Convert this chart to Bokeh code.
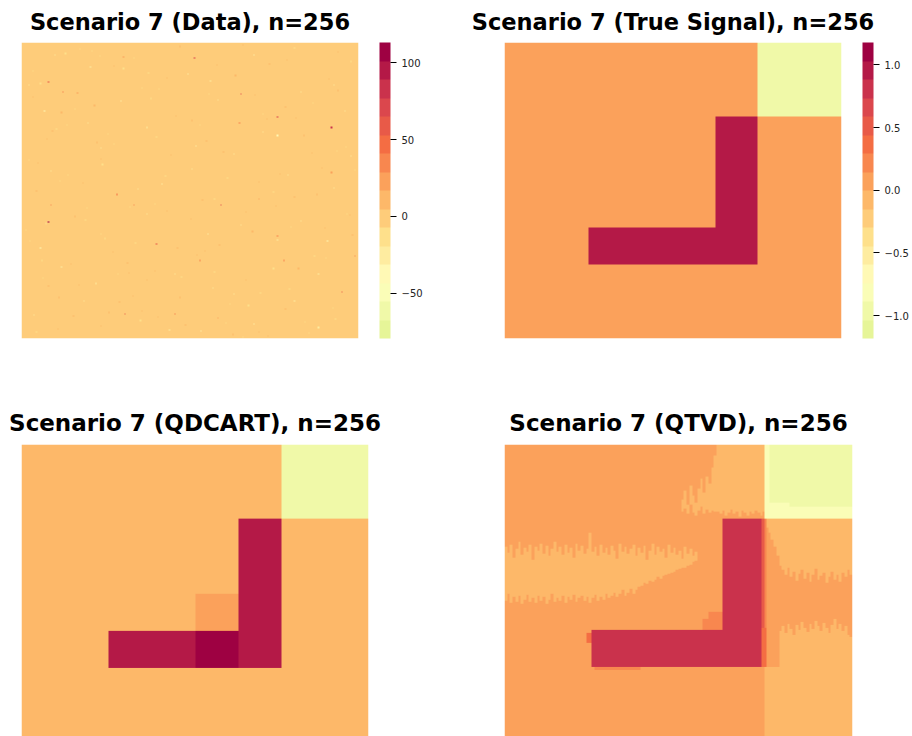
import numpy as np
from bokeh.plotting import figure
from bokeh.models import (LinearColorMapper, ColorBar, FixedTicker,
                          CustomJSTickFormatter, Range1d)
from bokeh.layouts import column, row
from bokeh.embed import file_html
from bokeh.resources import INLINE

N = 256

# 16-step palette (light yellow-green -> dark red)
PALETTE = ["#E6F598", "#F0F9A8", "#FAFDB7", "#FFF9B5", "#FEECA0", "#FEE08B",
           "#FECC7A", "#FDB869", "#FBA15B", "#F8874F", "#F46D43", "#E85A48",
           "#DB474D", "#CA324C", "#B41947", "#9E0142"]

# ---------------- Data panel ----------------
DATA_RANGE = (-79.4, 113.2)
DATA_TICKS = [-50, 0, 50, 100]
DATA_BASE = 0.0
# visible outliers: row (from top), column, value
SPIKE_ROW = [13, 155, 42, 44, 64, 73, 131, 140, 140, 174, 188, 188, 215, 234, 234, 184, 167, 140, 34, 69, 238, 112, 135, 43,
             36, 59, 69, 79, 73, 89, 109, 81, 49, 80, 42, 16, 36, 96, 50, 114, 91, 111, 122, 135, 157, 154, 171, 195,
             223, 246, 249, 240, 223, 194, 177, 165, 200, 217, 243, 148, 125, 114, 27, 13, 21, 10, 10, 4, 59, 148,
             165, 200, 200, 235,
             20, 30, 55, 60, 85, 95, 100, 120, 145, 150, 160, 175, 190, 205, 210, 220, 230, 245, 250, 8,
             5, 18, 26, 33, 47, 52, 63, 71, 77, 86, 93, 104, 117, 126, 133, 143, 152, 162, 170, 181,
             186, 197, 203, 212, 219, 227, 236, 241, 248, 252, 12, 40, 66, 98, 128, 159, 183, 208, 232, 254,
             3, 9, 15, 22, 28, 35, 41, 48, 54, 61, 67, 74, 80, 87, 94, 101, 108, 115, 121, 129,
             136, 142, 149, 156, 163, 169, 177, 184, 191, 198, 205, 213, 220, 226, 233, 239, 244, 250, 253, 7,
             11, 19, 24, 31, 39, 45, 57, 65, 71, 83, 90, 97, 105, 113, 119, 131, 139, 146, 153, 166,
             173, 180, 188, 195, 202, 209, 216, 224, 229, 237, 242, 247, 251, 2, 44, 76, 110, 141, 171, 199]
SPIKE_COL = [131, 20, 31, 166, 194, 235, 72, 151, 85, 102, 135, 199, 243, 78, 116, 253, 194, 22, 20, 165, 149, 235, 180, 42,
             5, 17, 50, 65, 95, 132, 129, 102, 149, 194, 212, 250, 237, 161, 75, 35, 60, 22, 106, 146, 166, 212, 232, 191,
             207, 225, 136, 90, 47, 30, 14, 60, 116, 161, 176, 247, 237, 202, 126, 85, 52, 25, 176, 207, 245, 95,
             141, 73, 225, 9,
             70, 110, 200, 30, 140, 220, 60, 180, 110, 40, 230, 150, 80, 170, 20, 120, 200, 60, 180, 240,
             44, 188, 96, 143, 8, 221, 117, 34, 183, 57, 239, 12, 156, 88, 207, 49, 128, 3, 194, 69,
             231, 101, 16, 145, 84, 172, 39, 215, 112, 160, 77, 104, 186, 250, 11, 204, 133, 56, 91, 168,
             120, 33, 201, 77, 162, 14, 240, 98, 55, 183, 129, 26, 214, 70, 153, 5, 228, 109, 46, 191,
             137, 82, 249, 18, 175, 63, 118, 222, 37, 146, 95, 203, 28, 158, 66, 238, 124, 11, 187, 53,
             59, 148, 8, 233, 91, 177, 40, 208, 135, 19, 246, 113, 61, 196, 29, 224, 101, 170, 48, 251,
             86, 139, 15, 210, 121, 43, 181, 74, 236, 103, 155, 27, 218, 168, 142, 23, 253, 193, 6, 81]
SPIKE_VAL = [70, 105, 45, 75, 75, 80, 50, 75, 30, 60, 35, 35, 55, 55, 45, 30, 40, 30, 60, 40, 25, 25, 25, 20,
             -25, -40, -25, -15, -25, -40, -25, -15, -25, -40, -25, -15, -25, -25, -40, -15, -25, -25, -40, -15, -25, -25, -40, -15,
             -25, -25, -40, -15, -25, -25, -40, -15, -25, -25, -40, -15, -25, -25, -40, -15, -25, -25, -40, -15, -25, -25,
             -40, -15, -25, -25,
             10, 10, 12, 10, 10, 12, 10, 10, 12, 10, 10, 12, 10, 10, 12, 10, 10, 12, 10, 10,
             -12, 8, -12, -20, 8, -12, 10, -12, -20, 8, -12, 8, -12, -20, 8, -12, 10, -12, -20, 8,
             -12, 8, -12, -20, 8, -12, 10, -12, -20, 8, 20, -12, 8, -20, 15, -12, 8, -20, 10, -12,
             8, -12, 8, -12, 8, -12, 8, -12, 8, -12, 8, -12, 8, -12, 8, -12, 8, -12, 8, -12,
             8, -12, 8, -12, 8, -12, 8, -12, 8, -12, 8, -12, 8, -12, 8, -12, 8, -12, 8, -12,
             -12, 8, -12, 8, -12, 8, -12, 8, -12, 8, -12, 8, -12, 8, -12, 8, -12, 8, -12, 8,
             -12, 8, -12, 8, -12, 8, -12, 8, -12, 8, -12, 8, -12, 8, -12, 8, -12, 8, -12, 8]

# ---------------- Signal colour scale ----------------
SIGNAL_RANGE = (-1.183, 1.178)
SIGNAL_TICKS = [-1.0, -0.5, 0.0, 0.5, 1.0]

# blocks: (row0, row1, col0, col1, value), rows counted from the top, ends exclusive
TRUE_BASE = 0.0
TRUE_BLOCKS = [(0, 64, 192, 256, -1.0), (64, 192, 160, 192, 1.0), (160, 192, 64, 160, 1.0)]

QDCART_BASE = -0.07
QDCART_BLOCKS = [(0, 64, 192, 256, -1.0), (64, 192, 160, 192, 1.0), (160, 192, 64, 128, 1.0),
                 (160, 192, 128, 160, 1.1), (128, 160, 128, 160, 0.07)]

QTVD_BASE = 0.07
QTVD_LIGHT = -0.07
# light band on the left: top / bottom row per 2-column strip, from column 0
QTVD_LEFT_TOP = [88, 93, 86, 97, 90, 84, 95, 89, 92, 86, 99, 88, 91, 85, 94, 87, 96, 90, 84, 92, 88, 95, 86, 93,
                 89, 97, 85, 91, 87, 94, 90, 76, 92, 88, 96, 86, 93, 89, 95, 87, 91, 98, 85, 92, 88, 94, 90, 86,
                 96, 89, 93, 87, 99, 91, 85, 95, 88, 92, 90, 97, 86, 93, 89, 95, 91, 98, 88, 94, 90, 96, 92, 100]
QTVD_LEFT_BOT = [134, 128, 136, 131, 135, 130, 137, 133, 129, 135, 132, 136, 130, 134, 131, 137, 133, 128, 135, 132, 134, 130, 136, 131,
                 133, 129, 135, 132, 130, 134, 131, 136, 132, 129, 134, 131, 133, 128, 132, 130, 127, 131, 128, 125, 130, 127, 124, 128,
                 125, 122, 121, 119, 120, 117, 118, 116, 114, 115, 113, 112, 111, 110, 109, 108, 107, 106, 106, 104, 103, 101, 100, 98]
# light strip above the L: start / end row per 2-column strip, from column 130
QTVD_STRIP_START = [48, 40, 52, 36, 44, 50, 38, 30, 42, 28, 34, 20, 10,
                    0, 0, 0, 0, 0, 0, 0, 0, 0, 0, 0, 0, 0, 0, 0, 0, 0, 0]
QTVD_STRIP_END = [58, 55, 60, 52, 59, 61, 57, 54, 60, 56, 59, 57, 58,
                  58, 60, 57, 61, 59, 56, 60, 58, 62, 57, 59, 61, 58, 60, 57, 59, 61, 58]
# right-hand side: per 2-column strip from column 192
QTVD_RIGHT_UP_END = [72, 76, 82, 88, 96, 104, 108, 112, 106, 114, 109, 117, 111, 108, 115, 110,
                     118, 112, 107, 116, 113, 110, 119, 114, 109, 116, 112, 118, 110, 114, 108, 112]
QTVD_RIGHT_LOW_START = [191, 191, 191, 191, 191, 160, 156, 162, 154, 158, 163, 155, 159, 152, 157, 161,
                        154, 158, 151, 156, 160, 153, 157, 162, 155, 150, 158, 154, 160, 156, 163, 165]
QTVD_BLOCKS = [(191, 256, 191, 192, -0.07),
               (0, 64, 191, 256, -0.96), (0, 54, 191, 195, -0.81), (54, 64, 191, 256, -0.81),
               (50, 54, 191, 210, -0.81),
               (64, 191, 160, 189, 0.81), (159, 191, 64, 189, 0.81),
               (64, 157, 189, 191, 0.52), (64, 157, 191, 193, 0.22), (157, 191, 189, 193, 0.37),
               (162, 170, 60, 64, 0.37), (144, 159, 150, 160, 0.22), (150, 159, 146, 150, 0.22),
               (191, 193, 66, 100, 0.22)]

TITLES = ["Scenario 7 (Data), n=256", "Scenario 7 (True Signal), n=256",
          "Scenario 7 (QDCART), n=256", "Scenario 7 (QTVD), n=256"]

STEP = 2


def blocks_grid(base, blocks):
    g = np.full((N, N), base, dtype=float)
    for r0, r1, c0, c1, v in blocks:
        g[r0:r1, c0:c1] = v
    return g


def data_grid():
    g = np.full((N, N), DATA_BASE, dtype=float)
    for r, c, v in zip(SPIKE_ROW, SPIKE_COL, SPIKE_VAL):
        g[r, c] = v
    return g


def qtvd_grid():
    g = np.full((N, N), QTVD_BASE, dtype=float)
    for i, (t, b) in enumerate(zip(QTVD_LEFT_TOP, QTVD_LEFT_BOT)):
        g[t:b, i * STEP:(i + 1) * STEP] = QTVD_LIGHT
    for i, (s, e) in enumerate(zip(QTVD_STRIP_START, QTVD_STRIP_END)):
        c0 = 130 + i * STEP
        g[s:e, c0:c0 + STEP] = QTVD_LIGHT
    for i, (e, s) in enumerate(zip(QTVD_RIGHT_UP_END, QTVD_RIGHT_LOW_START)):
        c0 = 192 + i * STEP
        g[64:e, c0:c0 + STEP] = QTVD_LIGHT
        g[s:N, c0:c0 + STEP] = QTVD_LIGHT
    for r0, r1, c0, c1, v in QTVD_BLOCKS:
        g[r0:r1, c0:c1] = v
    return g


def make_fig(title, frame_w, frame_h, left, right, top, bottom, y0, fsize, standoff, valign):
    p = figure(frame_width=frame_w, frame_height=frame_h,
               min_border_left=left, min_border_right=right,
               min_border_top=top, min_border_bottom=bottom,
               x_range=Range1d(0, N), y_range=Range1d(y0, N),
               x_axis_location=None, y_axis_location=None,
               output_backend="svg", toolbar_location=None, title=title)
    p.title.text_font = "DejaVu Sans"
    p.title.text_font_size = fsize
    p.title.text_font_style = "bold"
    p.title.text_color = "#000000"
    p.title.align = "center"
    p.title.standoff = standoff
    p.title.vertical_align = valign
    p.xgrid.visible = False
    p.ygrid.visible = False
    p.outline_line_color = None
    p.background_fill_color = "white"
    p.border_fill_color = "white"
    return p


def add_cbar(p, mapper, ticks, digits, height):
    fmt = CustomJSTickFormatter(code="return tick.toFixed(%d).replace('-', '\u2212')" % digits)
    cb = ColorBar(color_mapper=mapper, ticker=FixedTicker(ticks=ticks), formatter=fmt,
                  width=11, height=height, location=(21, 0), margin=0, padding=0,
                  major_tick_out=6, major_tick_in=0, major_tick_line_color="#000000",
                  minor_tick_line_color=None, bar_line_color=None,
                  major_label_text_font="DejaVu Sans", major_label_text_font_size="10px",
                  major_label_text_color="#222222", label_standoff=5,
                  background_fill_alpha=0, border_line_color=None)
    p.add_layout(cb, "right")


data_mapper = LinearColorMapper(palette=PALETTE, low=DATA_RANGE[0], high=DATA_RANGE[1])
sig_mapper = LinearColorMapper(palette=PALETTE, low=SIGNAL_RANGE[0], high=SIGNAL_RANGE[1])

p1 = make_fig(TITLES[0], 337, 296, 21, 98, 42, 48, 0, "22.5px", 13.5, "middle")
p1.image(image=[np.flipud(data_grid())], x=0, y=0, dw=N, dh=N, color_mapper=data_mapper)
add_cbar(p1, data_mapper, DATA_TICKS, 0, 296)

p2 = make_fig(TITLES[1], 337, 296, 48, 71, 42, 48, 0, "22.5px", 13.5, "middle")
p2.image(image=[np.flipud(blocks_grid(TRUE_BASE, TRUE_BLOCKS))], x=0, y=0, dw=N, dh=N,
         color_mapper=sig_mapper)
add_cbar(p2, sig_mapper, SIGNAL_TICKS, 1, 296)

p3 = make_fig(TITLES[2], 347, 292, 21, 88, 58, 0, 5.7, "23px", 17, "bottom")
p3.image(image=[np.flipud(blocks_grid(QDCART_BASE, QDCART_BLOCKS))], x=0, y=0, dw=N, dh=N,
         color_mapper=sig_mapper)

p4 = make_fig(TITLES[3], 348, 292, 48, 60, 58, 0, 5.7, "23px", 17, "bottom")
p4.image(image=[np.flipud(qtvd_grid())], x=0, y=0, dw=N, dh=N, color_mapper=sig_mapper)

layout = column(row(p1, p2), row(p3, p4))

with open("out.html", "w", encoding="utf-8") as f:
    f.write(file_html(layout, INLINE))
